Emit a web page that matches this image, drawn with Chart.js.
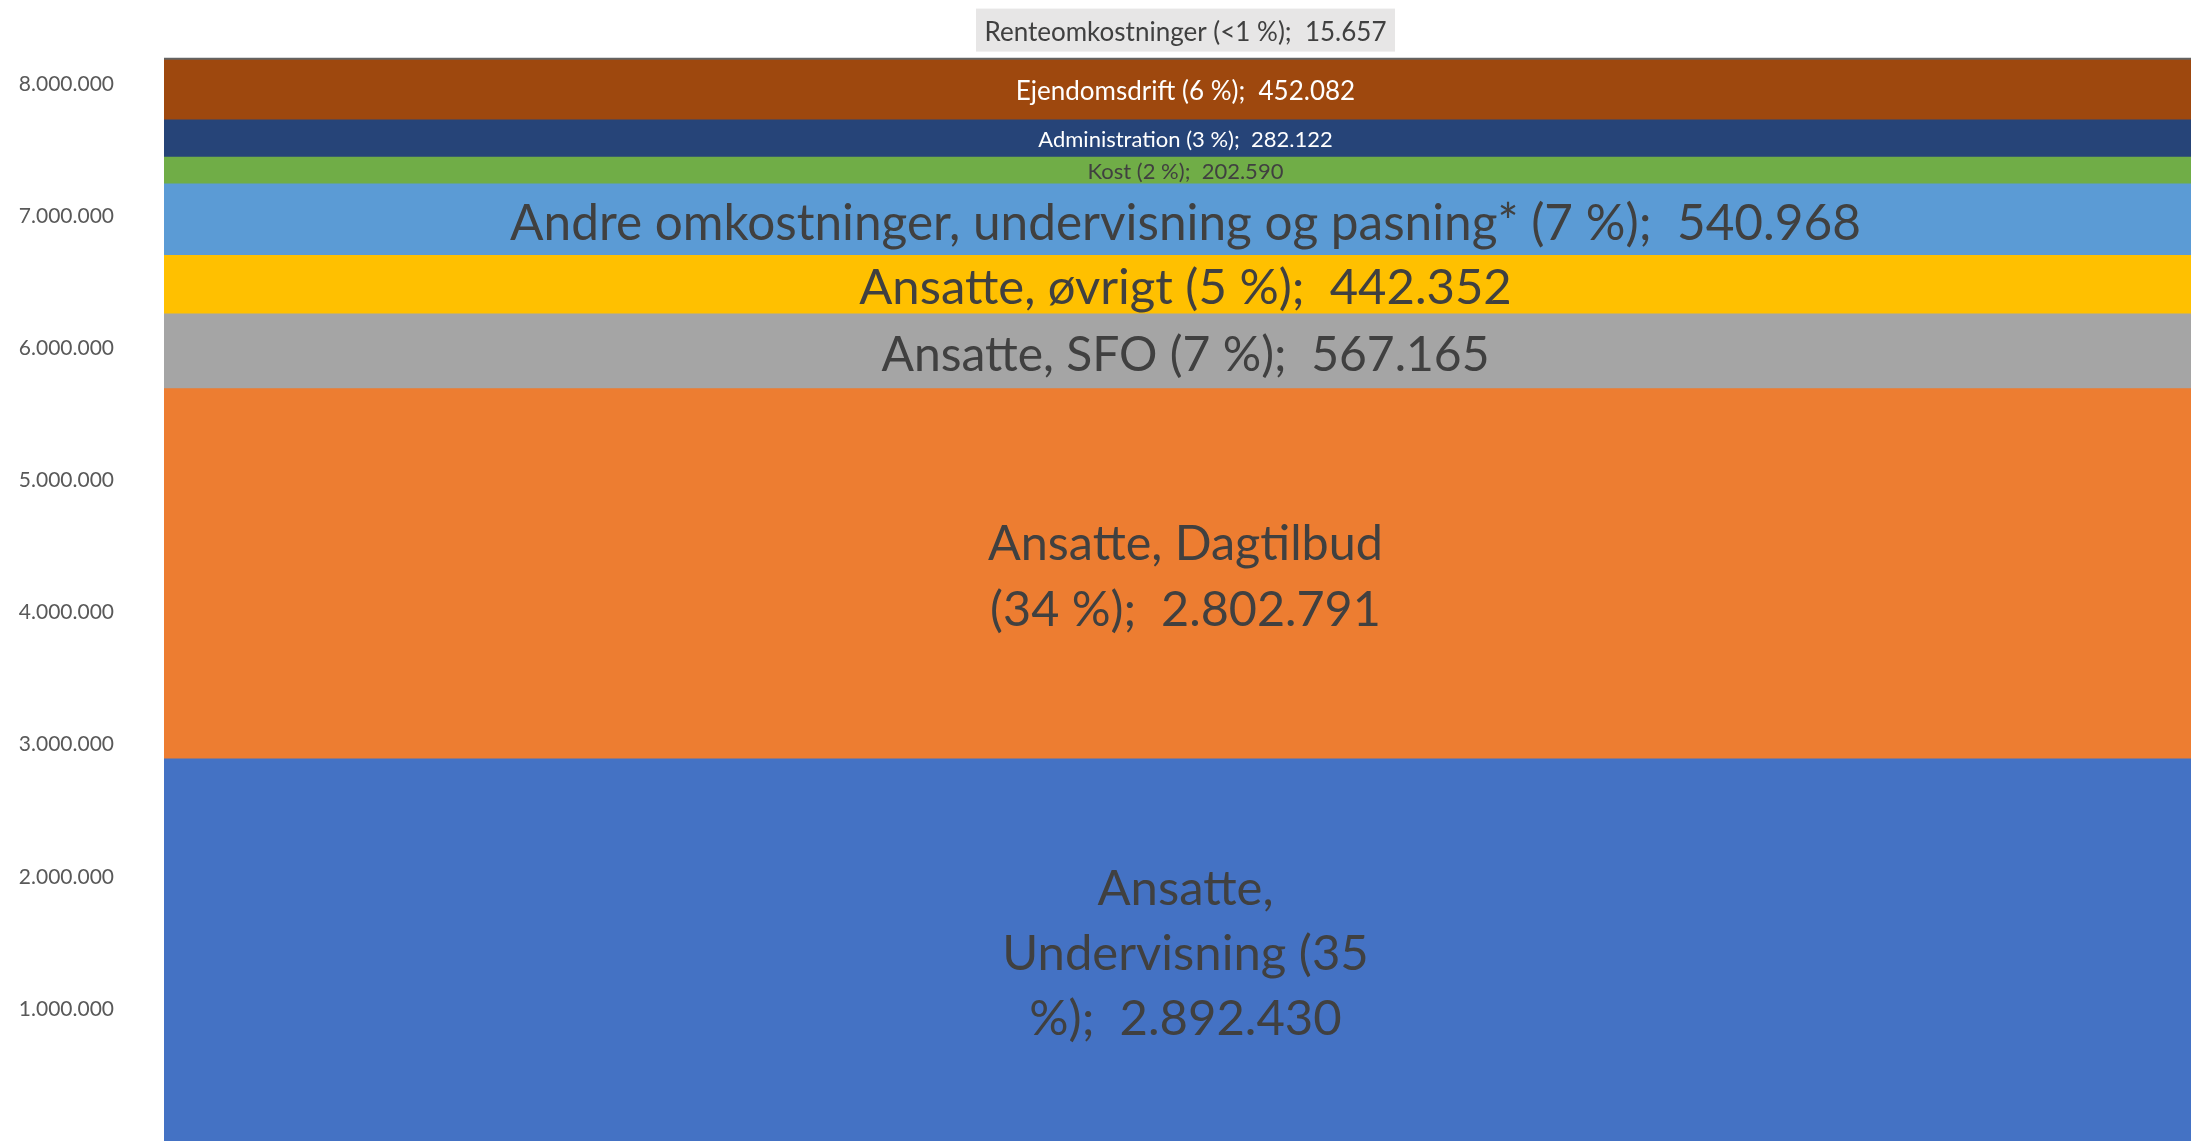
<!DOCTYPE html>
<html>
<head>
<meta charset="utf-8">
<script src="https://cdn.jsdelivr.net/npm/chart.js@4.4.0/dist/chart.umd.min.js"></script>
<style>
  html, body { margin: 0; padding: 0; background: #ffffff; overflow: hidden; }
  canvas { display: block; }
</style>
</head>
<body>
<canvas id="chart" width="2191" height="1142"></canvas>
<script>
// --- data ---
const categories = ['Udgifter'];
const seriesNames = [
    'Ansatte, Undervisning',
    'Ansatte, Dagtilbud',
    'Ansatte, SFO',
    'Ansatte, øvrigt',
    'Andre omkostninger, undervisning og pasning*',
    'Kost',
    'Administration',
    'Ejendomsdrift',
    'Renteomkostninger'
];
const seriesValues = [2892430, 2802791, 567165, 442352, 540968, 202590, 282122, 452082, 15657];
const yTicks = [1000000, 2000000, 3000000, 4000000, 5000000, 6000000, 7000000, 8000000];
const yMax = 8600000;

// --- styles ---
const seriesColors = ['#4472C4', '#ED7D31', '#A5A5A5', '#FFC000', '#5B9BD5', '#70AD47', '#264478', '#9E480E', '#636363'];
const FONT = 'Lato, "Open Sans", sans-serif';
// breaks = word indexes after which the label wraps (like Excel did)
const labelStyles = [
    { size: 49, color: '#404040', breaks: [0, 2], lineH: 65 },
    { size: 48.5, color: '#404040', breaks: [1], lineH: 66 },
    { size: 48, color: '#404040' },
    { size: 49, color: '#404040' },
    { size: 49.5, color: '#404040' },
    { size: 22, color: '#404040' },
    { size: 22, color: '#FFFFFF' },
    { size: 26, color: '#FFFFFF' },
    { size: 26, color: '#404040', box: '#E7E6E6', above: true }
];

function fmtNumber(v) {
    return String(v).replace(/\B(?=(\d{3})+(?!\d))/g, '.');
}

const total = seriesValues.reduce((a, b) => a + b, 0);

function pctText(v) {
    const p = v / total * 100;
    return p < 1 ? '<1 %' : Math.round(p) + ' %';
}

function splitLines(text, breaks) {
    if (!breaks) return [text];
    const words = text.split(' ');
    const lines = [];
    let cur = [];
    words.forEach((w, idx) => {
        cur.push(w);
        if (breaks.indexOf(idx) >= 0) {
            lines.push(cur.join(' ').trim());
            cur = [];
        }
    });
    if (cur.length) lines.push(cur.join(' ').trim());
    return lines;
}

// draws the data labels inside (or above) each stacked segment
const segmentLabels = {
    id: 'segmentLabels',
    afterDatasetsDraw(chart) {
        const ctx = chart.ctx;
        chart.data.datasets.forEach((ds, i) => {
            const bar = chart.getDatasetMeta(i).data[0];
            if (!bar) return;
            const st = labelStyles[i];
            const top = Math.min(bar.y, bar.base);
            const bottom = Math.max(bar.y, bar.base);
            const cx = bar.x + 8;
            const cy = st.above ? top - 28 : (top + bottom) / 2;
            const text = seriesNames[i] + ' (' + pctText(seriesValues[i]) + ');  ' + fmtNumber(seriesValues[i]);

            ctx.save();
            ctx.font = st.size + 'px ' + FONT;
            const lines = splitLines(text, st.breaks);
            const lineH = st.lineH || st.size * 1.22;

            if (st.box) {
                const w = ctx.measureText(text).width + 17;
                const h = 43;
                ctx.fillStyle = st.box;
                ctx.fillRect(cx - w / 2, cy - h / 2, w, h);
            }

            ctx.fillStyle = st.color;
            ctx.textAlign = 'center';
            ctx.textBaseline = 'middle';
            // small nudge so the glyphs sit optically centred like Calibri
            const nudge = st.size * 0.08;
            const y0 = cy + nudge - (lines.length - 1) * lineH / 2;
            lines.forEach((ln, k) => {
                ctx.fillText(ln, cx, y0 + k * lineH);
            });
            ctx.restore();
        });
    }
};

const datasets = seriesNames.map((name, i) => ({
    label: name,
    data: [seriesValues[i]],
    backgroundColor: seriesColors[i],
    borderWidth: 0,
    barPercentage: 1.0,
    categoryPercentage: 1.0
}));

new Chart(document.getElementById('chart').getContext('2d'), {
    type: 'bar',
    data: {
        labels: categories,
        datasets: datasets
    },
    plugins: [segmentLabels],
    options: {
        responsive: false,
        animation: false,
        devicePixelRatio: 1,
        layout: {
            padding: { top: 5, right: 0, bottom: 1, left: 0 }
        },
        scales: {
            x: {
                stacked: true,
                display: false
            },
            y: {
                stacked: true,
                min: 0,
                max: yMax,
                grid: { display: false, drawTicks: false },
                border: { display: false },
                afterFit: function(scale) {
                    scale.width = 164;
                    // tick padding would otherwise be added above and below the plot
                    scale.paddingTop = 0;
                    scale.paddingBottom = 0;
                },
                afterBuildTicks: function(scale) {
                    scale.ticks = yTicks.map(v => ({ value: v }));
                },
                ticks: {
                    padding: 50,
                    color: '#595959',
                    font: { family: FONT, size: 21 },
                    callback: function(value) {
                        return fmtNumber(value);
                    }
                }
            }
        },
        plugins: {
            legend: { display: false },
            tooltip: { enabled: false }
        }
    }
});
</script>
</body>
</html>
